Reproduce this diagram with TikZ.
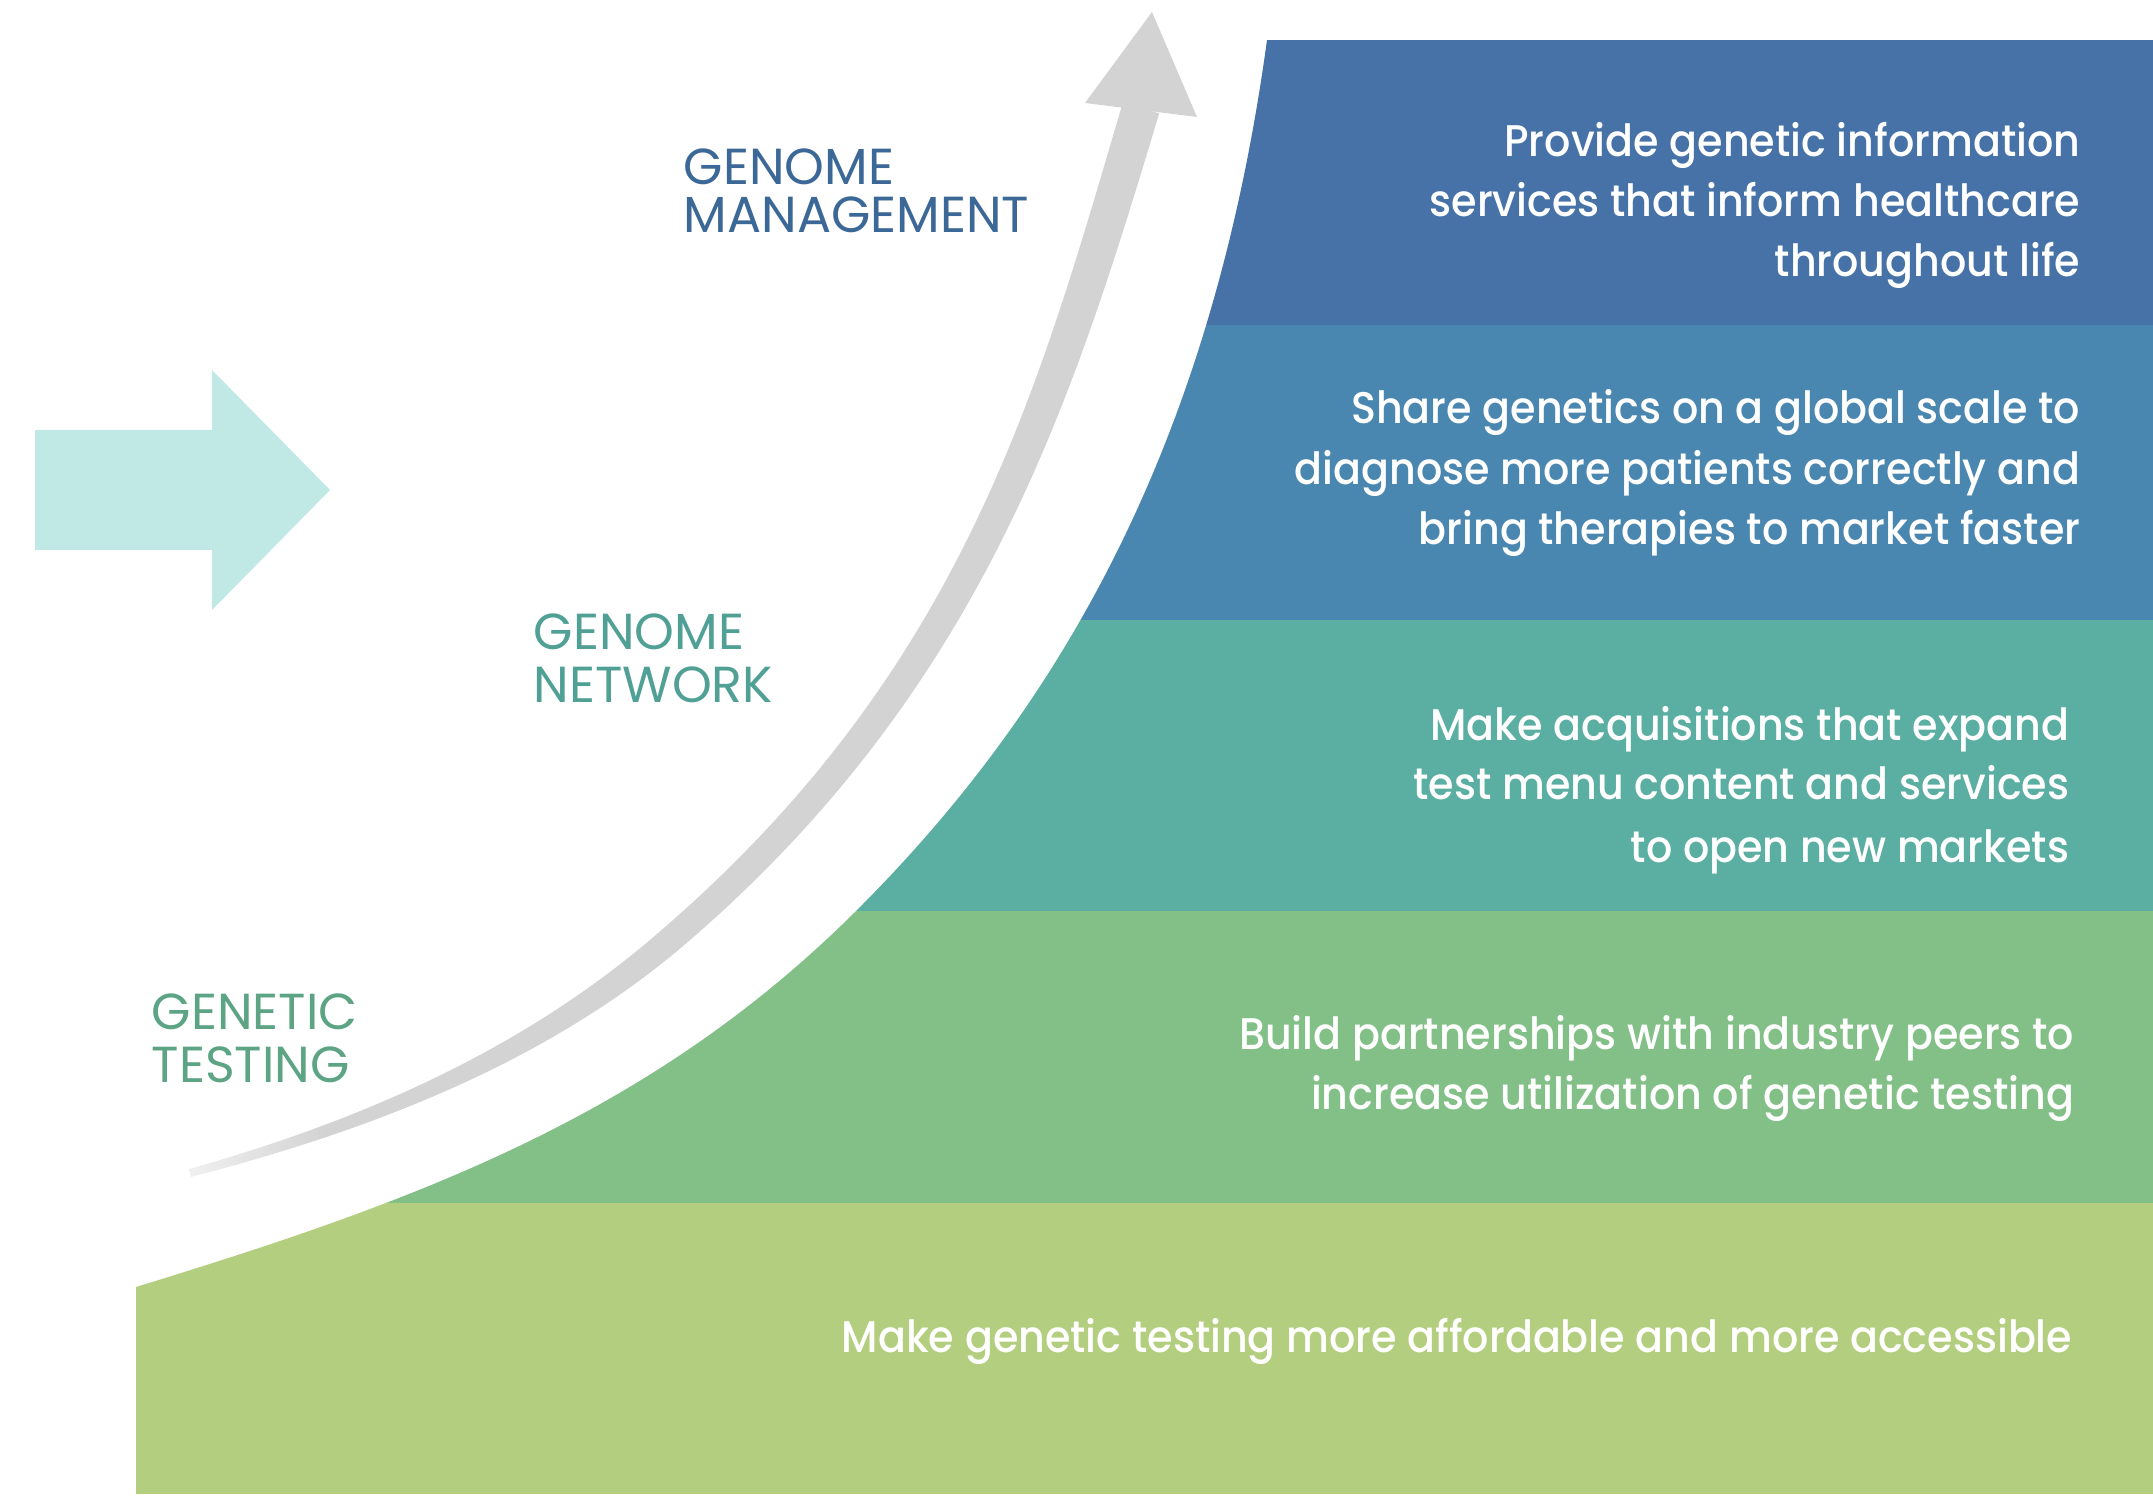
\documentclass[tikz,border=0pt]{standalone}
\usepackage{fontspec}
\setmainfont{Poppins}
\newfontfamily\bandfont{Poppins Medium}[FakeStretch=0.93]
\newfontfamily\labelfont{Poppins}
\definecolor{bandA}{RGB}{70,114,168}
\definecolor{bandB}{RGB}{74,135,176}
\definecolor{bandC}{RGB}{90,174,162}
\definecolor{bandD}{RGB}{130,192,135}
\definecolor{bandE}{RGB}{179,206,126}
\definecolor{arrowc}{RGB}{192,232,229}
\definecolor{grayc}{RGB}{211,211,211}
\definecolor{tailc}{RGB}{240,240,240}
\definecolor{gmc}{RGB}{60,104,152}
\definecolor{gnc}{RGB}{80,160,150}
\definecolor{gtc}{RGB}{92,164,132}
\pgfdeclarehorizontalshading{tailfade}{100bp}{color(0bp)=(tailc); color(25bp)=(tailc); color(32bp)=(grayc); color(100bp)=(grayc)}
\tikzset{
  bandtxt/.style={anchor=base east, text=white, inner sep=0pt, font=\bandfont\fontsize{12.6}{14}\selectfont},
  lbl/.style={anchor=base west, inner sep=0pt, font=\labelfont\fontsize{14.4}{16}\selectfont}
}
\begin{document}
\begin{tikzpicture}[x=0.01cm,y=-0.01cm]
\useasboundingbox (0,0) rectangle (2153,1498);
\fill[white] (0,0) rectangle (2153,1498);
% bands clipped by the curve
\begin{scope}
\clip (136,1287) .. controls (413,1202) and (647,1118) .. (853,914)
  .. controls (1066,703) and (1213,436) .. (1267,40)
  -- (2153,40) -- (2153,1494) -- (136,1494) -- cycle;
\fill[bandA] (0,40) rectangle (2153,325);
\fill[bandB] (0,325) rectangle (2153,620);
\fill[bandC] (0,620) rectangle (2153,911);
\fill[bandD] (0,911) rectangle (2153,1203);
\fill[bandE] (0,1203) rectangle (2153,1494);
\end{scope}
% left arrow
\fill[arrowc] (35,430) -- (212,430) -- (212,370) -- (330,490) -- (212,610) -- (212,550) -- (35,550) -- cycle;
% grey curved arrow (tapered shaft + head)
\shade[shading=tailfade]
  (191.0,1176.9) .. controls (365.6,1131.8) and (540.4,1065.4) .. (678.5,949.9)
  .. controls (983.8,691.4) and (1073.3,398.1) .. (1159.2,113.4)
  -- (1122.8,102.6)
  .. controls (1038.7,387.9) and (964.3,668.6) .. (661.5,930.1)
  .. controls (526.1,1048.6) and (362.4,1120.2) .. (189.0,1169.1) -- cycle;
\fill[grayc] (1085,103) -- (1152,12) -- (1197,117) -- cycle;
% stage labels
\node[lbl, text=gmc] (gm1) at (683,185) {GENOME};
\node[lbl, text=gmc] (gm2) at (683,233) {MANAGEMENT};
\node[lbl, text=gnc] (gn1) at (533,650) {GENOME};
\node[lbl, text=gnc] (gn2) at (533,703) {NETWORK};
\node[lbl, text=gtc] (gt1) at (151,1030) {GENETIC};
\node[lbl, text=gtc] (gt2) at (151,1083) {TESTING};
% band texts
\node[bandtxt] (a1) at (2081,157) {Provide genetic information};
\node[bandtxt] (a2) at (2081,217) {services that inform healthcare};
\node[bandtxt] (a3) at (2081,277) {throughout life};
\node[bandtxt] (b1) at (2081,424) {Share genetics on a global scale to};
\node[bandtxt] (b2) at (2081,485) {diagnose more patients correctly and};
\node[bandtxt] (b3) at (2081,545) {bring therapies to market faster};
\node[bandtxt] (c1) at (2070,741) {Make acquisitions that expand};
\node[bandtxt] (c2) at (2070,800) {test menu content and services};
\node[bandtxt] (c3) at (2070,863) {to open new markets};
\node[bandtxt] (d1) at (2075,1050) {Build partnerships with industry peers to};
\node[bandtxt] (d2) at (2075,1110) {increase utilization of genetic testing};
\node[bandtxt] (e1) at (2073,1353) {Make genetic testing more affordable and more accessible};
\end{tikzpicture}
\end{document}
